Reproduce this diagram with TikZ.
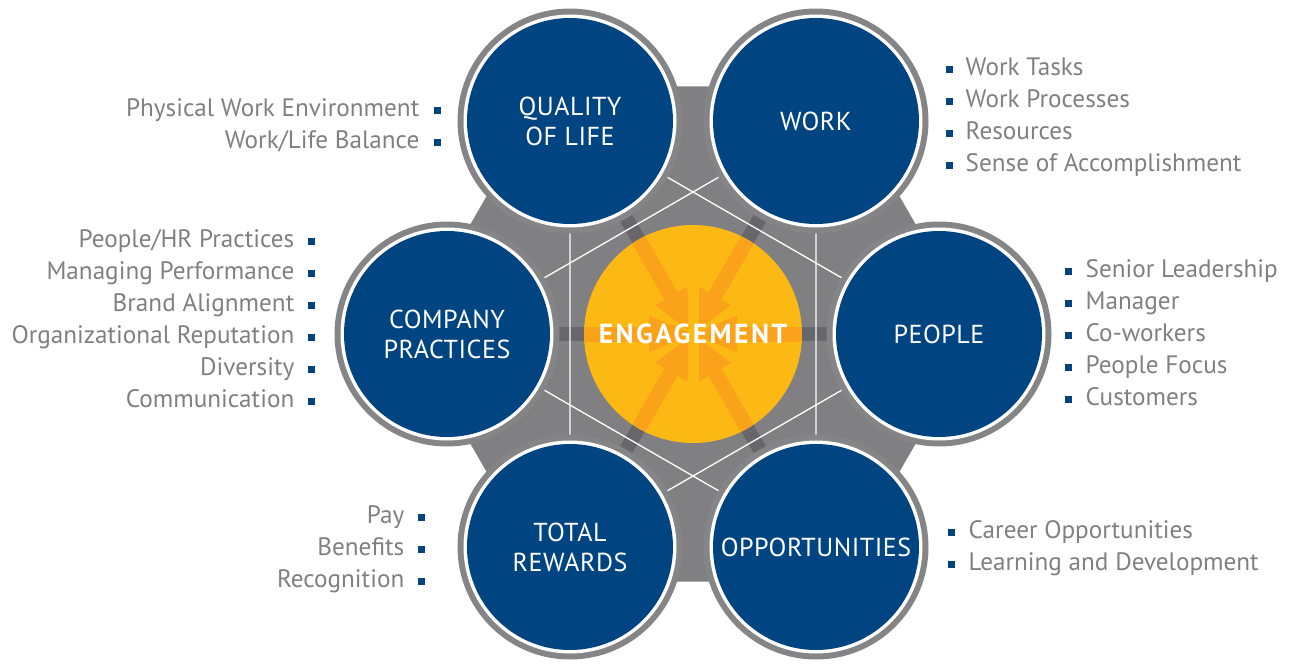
\documentclass[tikz,border=0pt]{standalone}
\usepackage{fontspec}
\setmainfont{PT Sans}
\usetikzlibrary{calc}
\definecolor{cblue}{RGB}{0,69,129}
\definecolor{hexgray}{RGB}{128,128,130}
\definecolor{ringgray}{RGB}{133,133,135}
\definecolor{spokegray}{RGB}{103,102,107}
\definecolor{cyellow}{RGB}{253,185,19}
\definecolor{corange}{RGB}{250,163,26}
\definecolor{tgray}{RGB}{128,128,128}
\newcommand\listfont{\fontsize{25.2}{30}\selectfont}
\newcommand\labelfont{\addfontfeatures{LetterSpace=2}\fontsize{26}{30}\selectfont}
\newcommand\engfont{\bfseries\addfontfeatures{LetterSpace=9}\fontsize{27.5}{30}\selectfont}
\newcommand\bsq{\textcolor{cblue}{\rule[2.5pt]{6.5pt}{6.5pt}}}
\pgfdeclarelayer{bg}
\pgfsetlayers{bg,main}
\begin{document}
\begin{tikzpicture}[x=1pt,y=-1pt,
  outer/.style={circle, inner sep=0pt, minimum size=213pt, fill=white,
    preaction={draw=ringgray, line width=12pt},
    path picture={\fill[cblue] (path picture bounding box.center) circle (103pt);},
    text=white, align=center, font=\labelfont},
  engcircle/.style={circle, inner sep=0pt, minimum size=218pt, fill=cyellow},
  engtext/.style={text=white, font=\engfont, inner sep=0pt},
  spoke/.style={line width=14pt, spokegray},
  hexline/.style={line width=1.3pt, white},
  listL/.style={anchor=base east, inner sep=0pt, text=tgray, font=\listfont},
  listR/.style={anchor=base west, inner sep=0pt, text=tgray, font=\listfont}]
\useasboundingbox (0,0) rectangle (1291,664);

% outer circles
\node[outer] (qol) at (570,121) {QUALITY\\OF LIFE};
\node[outer] (work) at (816,121) {WORK};
\node[outer] (comp) at (447,334) {COMPANY\\PRACTICES};
\node[outer] (people) at (939,334) {PEOPLE};
\node[outer] (rew) at (570,547) {TOTAL\\REWARDS};
\node[outer] (opp) at (816,547) {OPPORTUNITIES};

% centre
\node[engcircle] (eng) at (693,334) {};

\begin{pgfonlayer}{bg}
  \fill[hexgray] ($(eng.center)+(0:286)$) -- ($(eng.center)+(60:286)$)
    -- ($(eng.center)+(120:286)$) -- ($(eng.center)+(180:286)$)
    -- ($(eng.center)+(240:286)$) -- ($(eng.center)+(300:286)$) -- cycle;
  \foreach \n in {qol,work,comp,people,rew,opp}
    \draw[spoke] (eng.center) -- (\n.center);
  \draw[hexline] (qol.center) -- (people.center) -- (rew.center) -- cycle;
  \draw[hexline] (work.center) -- (comp.center) -- (opp.center) -- cycle;
\end{pgfonlayer}

% arrows inside the engagement circle
\begin{scope}
  \clip (eng.center) circle (109pt);
  \foreach \n in {qol,work,comp,people,rew,opp}{
    \draw[line width=15pt, corange] ($(eng.center)!40pt!(\n.center)$) -- (\n.center);
    \fill[corange] (eng.center) -- ($(eng.center)!47.7pt!22.7:(\n.center)$)
      -- ($(eng.center)!47.7pt!-22.7:(\n.center)$) -- cycle;
  }
  \fill[cyellow] (687.5,278) rectangle (698.5,390);
\end{scope}
\node[engtext] (englabel) at (eng.center) {ENGAGEMENT};

% lists
\foreach \t [count=\i] in {Physical Work Environment, Work/Life Balance}
  \node[listL] (ql\i) at (441,{116+32*(\i-1)}) {\t\hspace{15pt}\bsq};
\foreach \t [count=\i] in {People/HR Practices, Managing Performance, Brand Alignment,
    Organizational Reputation, Diversity, Communication}
  \node[listL] (cl\i) at (315,{247+32*(\i-1)}) {\t\hspace{14pt}\bsq};
\foreach \t [count=\i] in {Pay, Benefits, Recognition}
  \node[listL] (rl\i) at (425,{523+32*(\i-1)}) {\t\hspace{14pt}\bsq};
\foreach \t [count=\i] in {Work Tasks, Work Processes, Resources, Sense of Accomplishment}
  \node[listR] (wl\i) at (946,{75+32*(\i-1)}) {\bsq\hspace{13pt}\t};
\foreach \t [count=\i] in {Senior Leadership, Manager, Co-workers, People Focus, Customers}
  \node[listR] (pl\i) at (1065,{277+32*(\i-1)}) {\bsq\hspace{14pt}\t};
\foreach \t [count=\i] in {Career Opportunities, Learning and Development}
  \node[listR] (ol\i) at (948,{538+32*(\i-1)}) {\bsq\hspace{14pt}\t};
\end{tikzpicture}
\end{document}
